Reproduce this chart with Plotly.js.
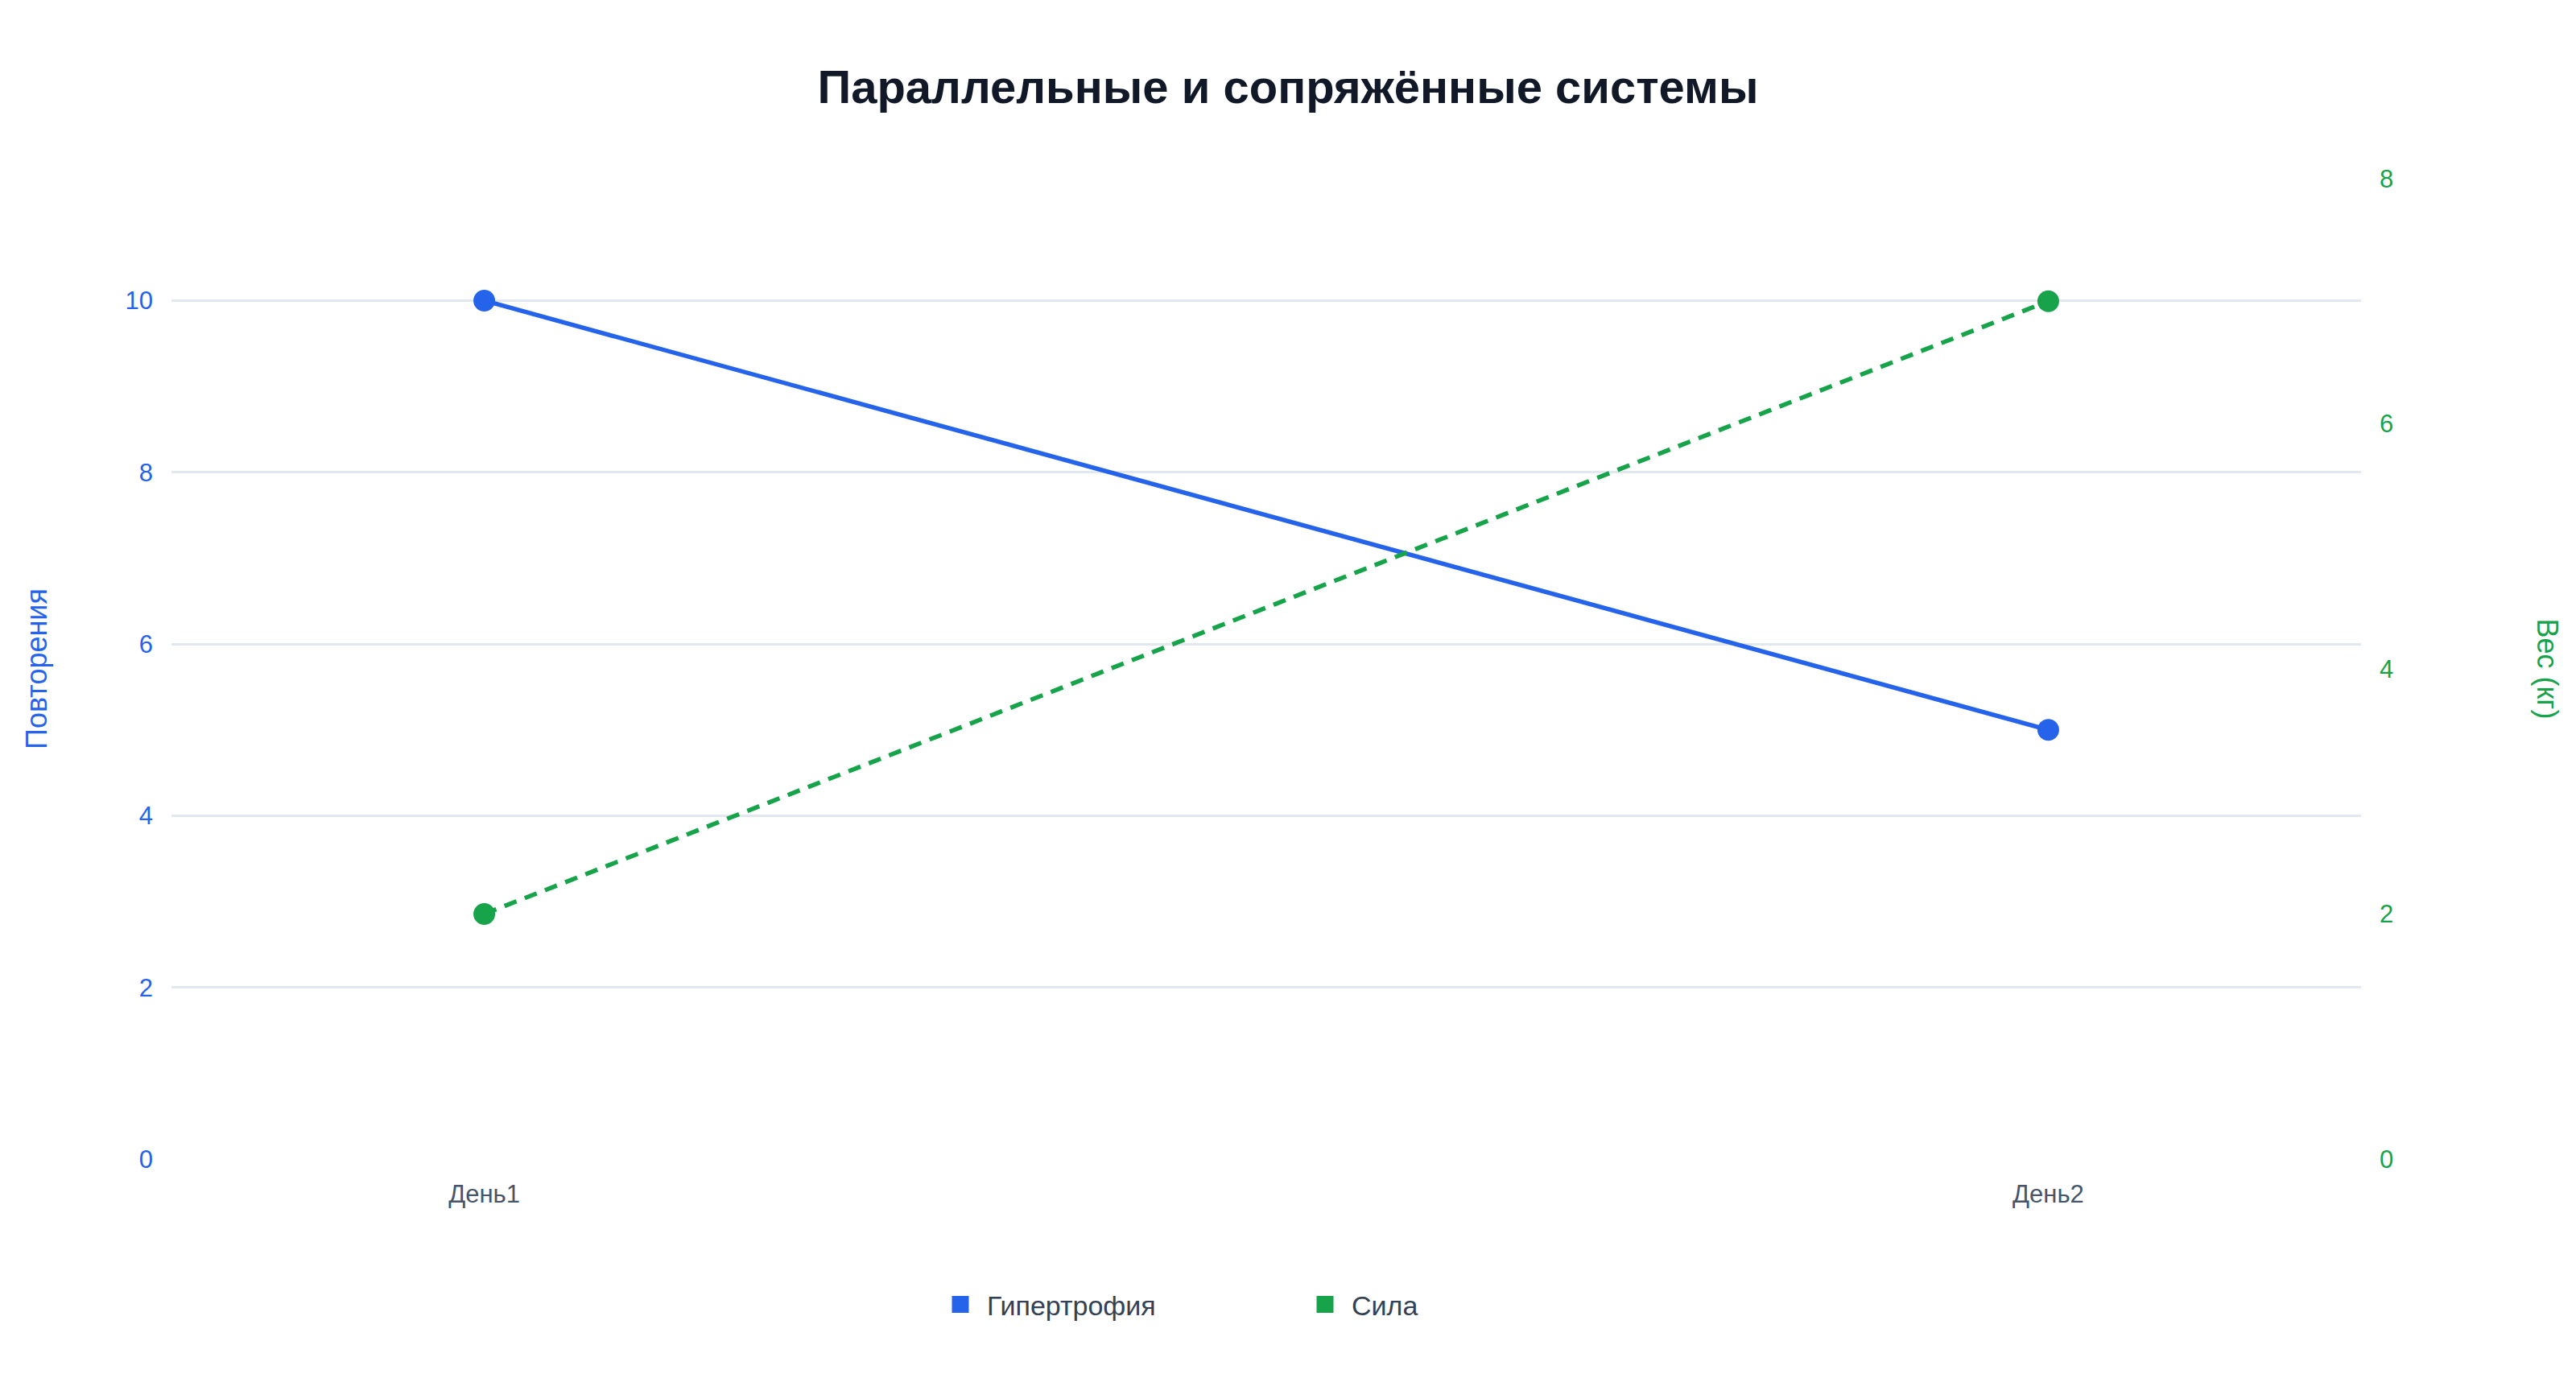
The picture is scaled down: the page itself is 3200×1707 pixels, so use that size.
<!DOCTYPE html>
<html>
<head>
<meta charset="utf-8">
<script src="https://cdn.plot.ly/plotly-3.0.1.min.js"></script>
<style>
  html, body { margin: 0; padding: 0; background: #ffffff; }
  #chart { width: 3200px; height: 1707px; }
</style>
</head>
<body>
<div id="chart"></div>
<script>
// data
const days = ['День1', 'День2'];
const reps = [10, 5];      // Гипертрофия, левая ось
const weight = [2, 7];     // Сила, правая ось
const seriesNames = ['Гипертрофия', 'Сила'];
const seriesColors = ['#2563eb', '#16a34a'];

const fontFamily = '"Liberation Sans", Arial, Helvetica, sans-serif';

let repsTrace = {
	x: days,
	y: reps,
	type: 'scatter',
	mode: 'lines+markers',
	name: seriesNames[0],
	line: { color: seriesColors[0], width: 5.5 },
	marker: { color: seriesColors[0], size: 27 },
	showlegend: false
};

let weightTrace = {
	x: days,
	y: weight,
	yaxis: 'y2',
	type: 'scatter',
	mode: 'lines+markers',
	name: seriesNames[1],
	line: { color: seriesColors[1], width: 5.5, dash: '16px,11px' },
	marker: { color: seriesColors[1], size: 27 },
	showlegend: false
};

// legend entries drawn as squares, like the reference
let legendTraces = seriesNames.map((n, i) => ({
	x: [null],
	y: [null],
	type: 'scatter',
	mode: 'markers',
	name: n,
	marker: {
		symbol: 'square',
		size: 16,
		color: seriesColors[i],
		line: { color: seriesColors[i], width: 5 }
	},
	hoverinfo: 'skip'
}));

let layout = {
	width: 3200,
	height: 1707,
	paper_bgcolor: '#ffffff',
	plot_bgcolor: '#ffffff',
	font: { family: fontFamily, color: '#334155' },
	margin: { l: 213, r: 267, t: 222, b: 267 },
	title: {
		text: '<b>Параллельные и сопряжённые системы</b>',
		font: { family: fontFamily, size: 58, color: '#111827' },
		x: 0.5,
		xref: 'container',
		y: 1 - 108 / 1707,
		yref: 'container',
		yanchor: 'middle'
	},
	xaxis: {
		type: 'category',
		range: [-0.2, 1.2],
		showgrid: false,
		zeroline: false,
		showline: false,
		ticks: '',
		tickfont: { size: 31, color: '#475569' },
		ticklabelstandoff: 22
	},
	yaxis: {
		range: [0, 11.42],
		tickvals: [0, 2, 4, 6, 8, 10],
		showgrid: true,
		gridcolor: '#e2e8f0',
		gridwidth: 2.5,
		zeroline: false,
		showline: false,
		ticks: '',
		tickfont: { size: 31, color: seriesColors[0] },
		ticklabelstandoff: 22,
		title: {
			text: 'Повторения',
			font: { size: 36, color: seriesColors[0] },
			standoff: 85
		}
	},
	yaxis2: {
		overlaying: 'y',
		side: 'right',
		range: [0, 8],
		tickvals: [0, 2, 4, 6, 8],
		showgrid: false,
		zeroline: false,
		showline: false,
		ticks: '',
		tickfont: { size: 31, color: seriesColors[1] },
		ticklabelstandoff: 22
	},
	annotations: [{
		text: 'Вес (кг)',
		xref: 'paper',
		yref: 'paper',
		x: (3187 - 213) / 2720,
		y: 0.5,
		textangle: 90,
		showarrow: false,
		font: { family: fontFamily, size: 36, color: seriesColors[1] }
	}],
	showlegend: true,
	legend: {
		orientation: 'h',
		x: (1160 - 213) / 2720,
		xanchor: 'left',
		y: (1440 - 1621) / 1218,
		yanchor: 'middle',
		itemwidth: 56,
		entrywidth: 382,
		font: { size: 34, color: '#334155' },
		bgcolor: 'rgba(0,0,0,0)'
	},
	hovermode: 'closest'
};

Plotly.newPlot('chart', [repsTrace, weightTrace].concat(legendTraces), layout, { displayModeBar: false, responsive: false });
</script>
</body>
</html>
